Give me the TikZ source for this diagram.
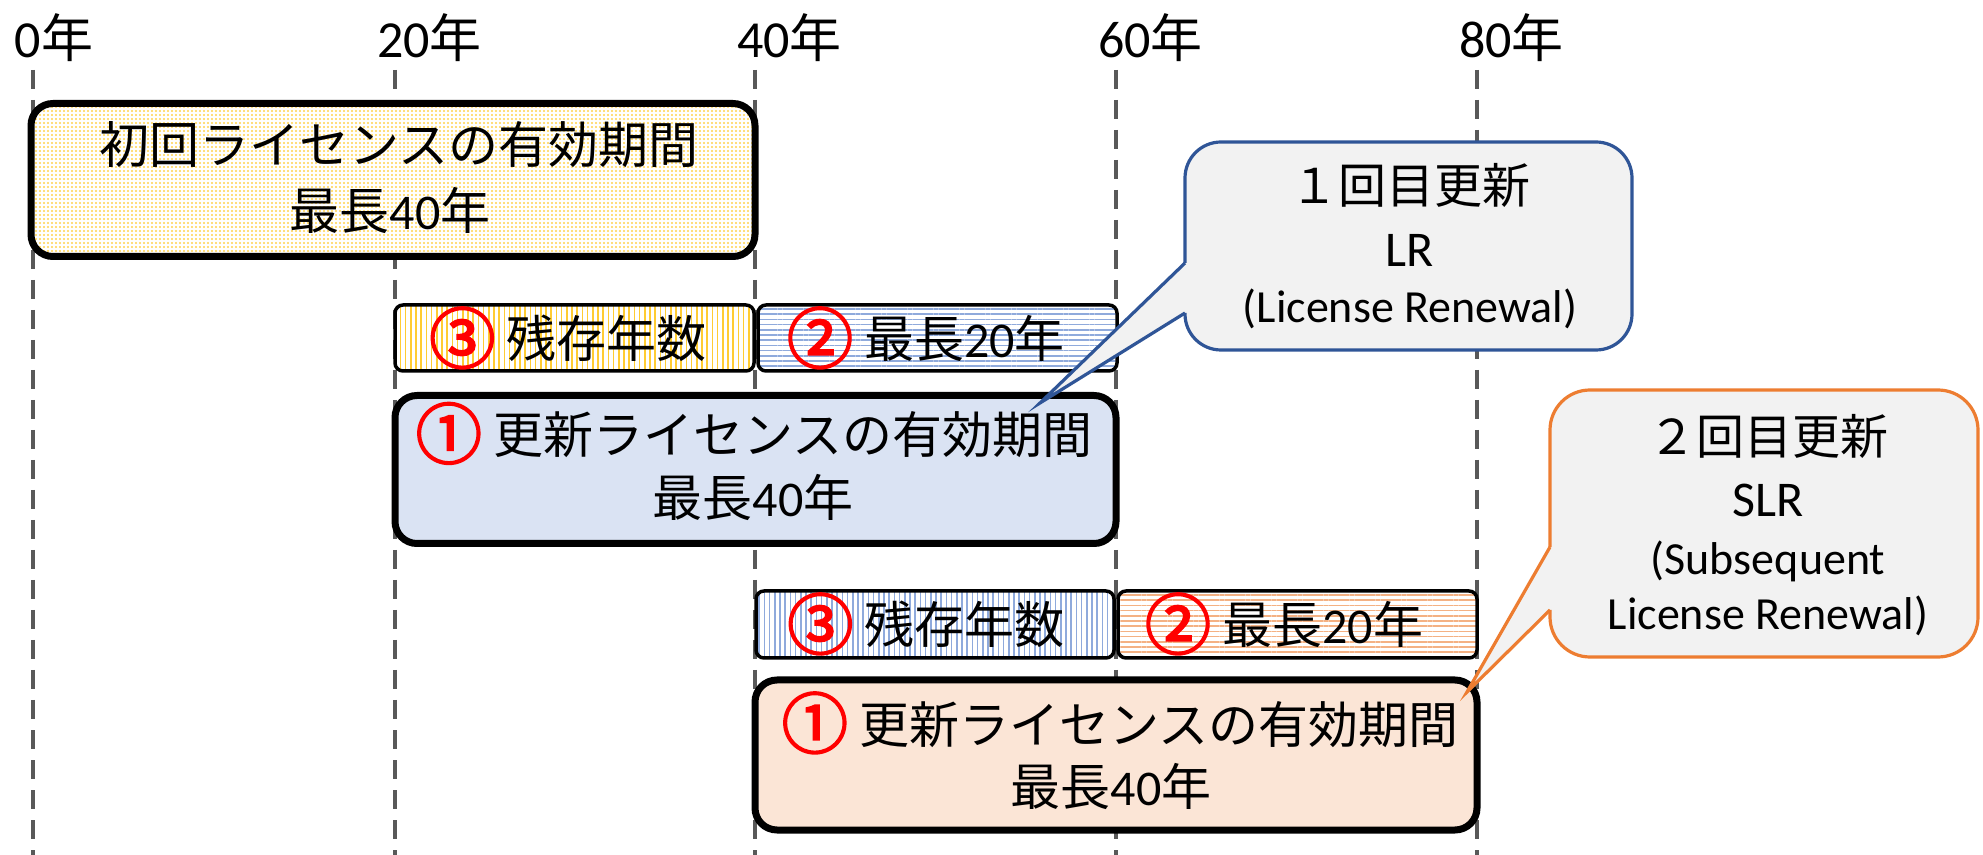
\documentclass[tikz,border=0pt]{standalone}
\usepackage{fontspec}
\setmainfont{Carlito}
\newfontfamily\jp{Noto Sans CJK JP}
\newfontfamily\jpb{Noto Sans CJK JP}[FakeBold=3]
\usetikzlibrary{patterns.meta}
\definecolor{gridgray}{HTML}{595959}
\definecolor{dotyellow}{HTML}{FFD34D}
\definecolor{stripeyellow}{HTML}{FFCC33}
\definecolor{stripeblue}{HTML}{8FAADC}
\definecolor{stripeorange}{HTML}{F4B183}
\definecolor{lightblue}{HTML}{DAE3F3}
\definecolor{lightorange}{HTML}{FBE5D6}
\definecolor{calloutgray}{HTML}{F2F2F2}
\definecolor{calloutblue}{HTML}{2F5597}
\definecolor{calloutorange}{HTML}{ED7D31}
\newcommand{\cnum}[1]{\raisebox{-2.5pt}{\jpb\fontsize{33pt}{36pt}\selectfont\color{red}#1}}
\begin{document}
\begin{tikzpicture}[
  x={(0.5pt,0)}, y={(0,-0.5pt)},
  every node/.style={inner sep=0pt, outer sep=0pt},
  gridline/.style={draw=gridgray, line width=1.6pt, dash pattern=on 9.5pt off 5.5pt},
  ticktxt/.style={font=\fontsize{26pt}{31pt}\selectfont, anchor=base west},
  boxtxt/.style={font=\fontsize{25pt}{30pt}\selectfont, anchor=base},
  bigbox/.style={draw=black, line width=3.5pt, rounded corners=11pt},
  smallbox/.style={draw=black, line width=1.75pt, rounded corners=4pt, preaction={fill=white}},
  vstripes/.style={pattern={Lines[angle=90, distance=2.6pt, line width=0.8pt]}, pattern color=#1},
  hstripes/.style={pattern={Lines[angle=0, distance=2.6pt, line width=0.8pt]}, pattern color=#1},
  calloutfill/.style={fill=calloutgray},
  calloutline/.style={draw=#1, line width=1.6pt},
  cjktxt/.style={font=\fontsize{24pt}{29pt}\selectfont, anchor=base},
  abbrtxt/.style={font=\fontsize{25pt}{30pt}\selectfont, anchor=base},
  fulltxt/.style={font=\fontsize{23pt}{28pt}\selectfont, anchor=base}
]
\useasboundingbox (0,0) rectangle (1983,855);

% grid lines
\foreach \gx/\gn in {33/0,395/20,755/40,1116/60,1477/80}{
  \coordinate (g\gn t) at (\gx,70);
  \coordinate (g\gn b) at (\gx,855);
  \draw[gridline] (g\gn t) -- (g\gn b);
}
\node[ticktxt] (t0) at (15,58) {0{\jp 年}};
\node[ticktxt] (t20) at (377,58) {20{\jp 年}};
\node[ticktxt] (t40) at (737,58) {40{\jp 年}};
\node[ticktxt] (t60) at (1098,58) {60{\jp 年}};
\node[ticktxt] (t80) at (1459,58) {80{\jp 年}};

% initial licence
\node[bigbox, preaction={fill=white}, pattern={Dots[distance=2pt, radius=0.55pt]}, pattern color=dotyellow,
      minimum width=362pt, minimum height=76.5pt] (b1) at (393,180) {};
\node[boxtxt] (b1a) at (399,164) {{\jp 初回ライセンスの有効期間}};
\node[boxtxt] (b1b) at (390,230) {{\jp 最長}40{\jp 年}};

% first renewal row
\node[smallbox, vstripes=stripeyellow, minimum width=179.5pt, minimum height=33pt] (r2a) at (574.5,338) {};
\node[smallbox, hstripes=stripeblue, minimum width=179.5pt, minimum height=33pt] (r2b) at (937.5,338) {};
\node[boxtxt] (r2at) at (568,358) {\cnum{③} {\jp 残存年数}};
\node[boxtxt] (r2bt) at (926,358) {\cnum{②} {\jp 最長}20{\jp 年}};

\node[bigbox, fill=lightblue, minimum width=360.5pt, minimum height=74pt] (b2) at (755.5,469.5) {};
\node[boxtxt] (b2a) at (754,453.5) {\cnum{①} {\jp 更新ライセンスの有効期間}};
\node[boxtxt] (b2b) at (753,517) {{\jp 最長}40{\jp 年}};

% second renewal row
\node[smallbox, vstripes=stripeblue, minimum width=179pt, minimum height=33.5pt] (r4a) at (935,624.5) {};
\node[smallbox, hstripes=stripeorange, minimum width=179.5pt, minimum height=33.5pt] (r4b) at (1297.5,624.5) {};
\node[boxtxt] (r4at) at (926,644) {\cnum{③} {\jp 残存年数}};
\node[boxtxt] (r4bt) at (1284,644) {\cnum{②} {\jp 最長}20{\jp 年}};

\node[bigbox, fill=lightorange, minimum width=361pt, minimum height=75pt] (b3) at (1116,755) {};
\node[boxtxt] (b3a) at (1120,743) {\cnum{①} {\jp 更新ライセンスの有効期間}};
\node[boxtxt] (b3b) at (1111,805) {{\jp 最長}40{\jp 年}};

% callout 1 (LR)
\coordinate (c1u) at (1185,263);
\coordinate (c1l) at (1185,313);
\coordinate (tip1) at (1040,403);
\fill[calloutfill, rounded corners=18pt] (1185,142) rectangle (1632,350);
\fill[calloutfill] (c1u) -- (tip1) -- (c1l) -- (1195,313) -- (1195,263) -- cycle;
\draw[calloutline=calloutblue, rounded corners=18pt] (c1l) -- (1185,350) -- (1632,350) -- (1632,142) -- (1185,142) -- (c1u);
\draw[calloutline=calloutblue, line join=miter] (c1u) -- (tip1) -- (c1l);
\node[cjktxt] (c1a) at (1410,204) {{\jp １回目更新}};
\node[abbrtxt] (c1b) at (1410,267) {LR};
\node[fulltxt] (c1c) at (1410,323) {(License Renewal)};

% callout 2 (SLR)
\coordinate (c2u) at (1550,547);
\coordinate (c2l) at (1550,610);
\coordinate (tip2) at (1467,692);
\fill[calloutfill, rounded corners=20pt] (1550,390) rectangle (1978,657);
\fill[calloutfill] (c2u) -- (tip2) -- (c2l) -- (1560,610) -- (1560,547) -- cycle;
\draw[calloutline=calloutorange, rounded corners=20pt] (c2l) -- (1550,657) -- (1978,657) -- (1978,390) -- (1550,390) -- (c2u);
\draw[calloutline=calloutorange, line join=miter] (c2u) -- (tip2) -- (c2l);
\node[cjktxt] (c2a) at (1768,455) {{\jp ２回目更新}};
\node[abbrtxt] (c2b) at (1768,517) {SLR};
\node[fulltxt] (c2c) at (1768,575) {(Subsequent};
\node[fulltxt] (c2d) at (1768,630) {License Renewal)};
\end{tikzpicture}
\end{document}
